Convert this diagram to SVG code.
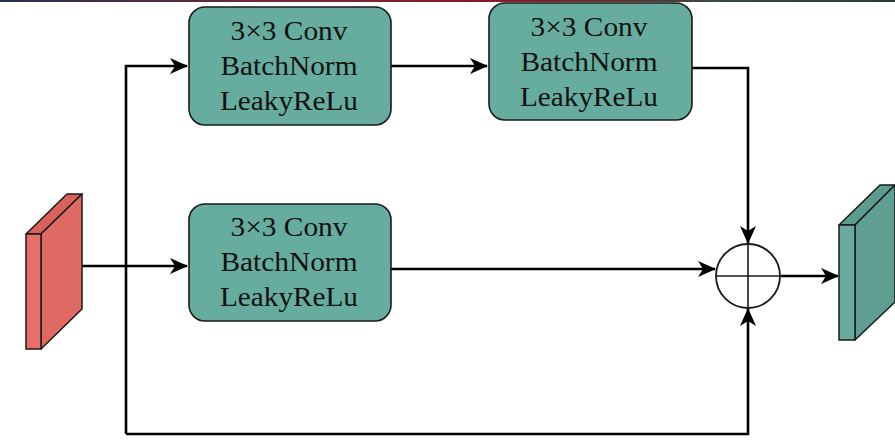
<svg xmlns="http://www.w3.org/2000/svg" width="895" height="440" viewBox="0 0 895 440">
  <style>
    .box { fill: #67ad9f; stroke: #1a1a1a; stroke-width: 1.6; }
    .lbl { font-family: "Liberation Serif", "Times New Roman", serif; font-size: 27px; fill: #111; text-anchor: middle; }
    .wire { fill: none; stroke: #000; stroke-width: 2.6; }
    .edge { stroke: #1a1a1a; stroke-width: 1.5; stroke-linejoin: round; }
  </style>
  <defs>
    <marker id="arrow" markerWidth="18" markerHeight="18" refX="17" refY="9" orient="auto" markerUnits="userSpaceOnUse" viewBox="0 0 18 18">
      <path d="M0,1 L18,9 L0,17 L5,9 Z" fill="#000"/>
    </marker>
    <linearGradient id="strip" x1="0" x2="1" y1="0" y2="0">
      <stop offset="0" stop-color="#2a3050"/>
      <stop offset="0.3" stop-color="#6a2a3a"/>
      <stop offset="0.55" stop-color="#8a1a25"/>
      <stop offset="0.8" stop-color="#3a4a40"/>
      <stop offset="1" stop-color="#2a3a35"/>
    </linearGradient>
  </defs>

  <rect x="0" y="0" width="895" height="440" fill="#fff"/>
  <rect x="0" y="0" width="895" height="2" fill="url(#strip)"/>

  <!-- connectors -->
  <g id="connectors">
    <path class="wire" d="M82,266 H187" marker-end="url(#arrow)"/>
    <path class="wire" d="M126,434 V66 H187" marker-end="url(#arrow)"/>
    <path class="wire" d="M126,434 H748 V309" marker-end="url(#arrow)"/>
    <path class="wire" d="M391,66 H487" marker-end="url(#arrow)"/>
    <path class="wire" d="M692,68 H748 V243" marker-end="url(#arrow)"/>
    <path class="wire" d="M391,269 H715" marker-end="url(#arrow)"/>
    <path class="wire" d="M781,276 H838" marker-end="url(#arrow)"/>
  </g>

  <!-- input feature map -->
  <g id="input">
    <polygon class="edge" points="26,234 67,194 82,194 41,234" fill="#d9625c"/>
    <polygon class="edge" points="41,234 82,194 82,309 41,349" fill="#df6a64"/>
    <rect class="edge" x="26" y="234" width="15" height="115" fill="#e8706a"/>
  </g>

  <!-- conv block 1 -->
  <g id="conv1">
    <rect class="box" x="189" y="7" width="202" height="118" rx="16"/>
    <text class="lbl" x="289" y="40" textLength="117" lengthAdjust="spacingAndGlyphs">3×3 Conv</text>
    <text class="lbl" x="289" y="75" textLength="137" lengthAdjust="spacingAndGlyphs">BatchNorm</text>
    <text class="lbl" x="289" y="110" textLength="138" lengthAdjust="spacingAndGlyphs">LeakyReLu</text>
  </g>

  <!-- conv block 2 -->
  <g id="conv2">
    <rect class="box" x="489" y="3" width="203" height="117" rx="16"/>
    <text class="lbl" x="589" y="36" textLength="117" lengthAdjust="spacingAndGlyphs">3×3 Conv</text>
    <text class="lbl" x="589" y="71" textLength="137" lengthAdjust="spacingAndGlyphs">BatchNorm</text>
    <text class="lbl" x="589" y="106" textLength="138" lengthAdjust="spacingAndGlyphs">LeakyReLu</text>
  </g>

  <!-- conv block 3 -->
  <g id="conv3">
    <rect class="box" x="189" y="204" width="202" height="117" rx="16"/>
    <text class="lbl" x="289" y="236" textLength="117" lengthAdjust="spacingAndGlyphs">3×3 Conv</text>
    <text class="lbl" x="289" y="271" textLength="137" lengthAdjust="spacingAndGlyphs">BatchNorm</text>
    <text class="lbl" x="289" y="306" textLength="138" lengthAdjust="spacingAndGlyphs">LeakyReLu</text>
  </g>

  <!-- element-wise sum -->
  <g id="sum">
    <circle cx="748" cy="276" r="32" fill="#fff" stroke="#1a1a1a" stroke-width="1.8"/>
    <path d="M716,276 H780 M748,244 V308" stroke="#1a1a1a" stroke-width="1.6"/>
  </g>

  <!-- output feature map -->
  <g id="output">
    <polygon class="edge" points="839,225 880,185 895,185 855,225" fill="#5c9d8f"/>
    <polygon class="edge" points="855,225 895,185 895,302 855,340" fill="#5f9f91"/>
    <rect class="edge" x="839" y="225" width="16" height="115" fill="#68ab9c"/>
  </g>
</svg>
